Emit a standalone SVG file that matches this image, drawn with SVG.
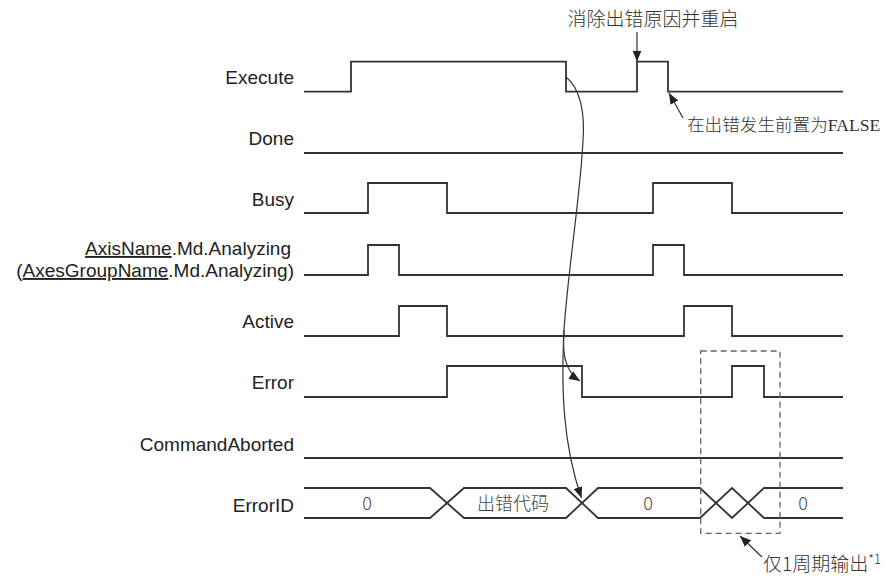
<svg xmlns="http://www.w3.org/2000/svg" width="891" height="576" viewBox="0 0 891 576">
<defs>
<style>
.sig{fill:none;stroke:#333;stroke-width:1.8;stroke-linejoin:miter}
.lbl{font-family:"Liberation Sans",Arial,sans-serif;font-size:19px;fill:#222;text-anchor:end}
.cjk{font-family:"Noto Sans CJK SC","Noto Sans",sans-serif;font-size:19px;font-weight:300;fill:#333}
.cjk.sm{font-size:17.6px}
.val{font-family:"Noto Sans CJK SC","Noto Sans",sans-serif;font-size:18px;font-weight:300;fill:#444;text-anchor:middle}
.con{fill:none;stroke:#333;stroke-width:1.2}
.dash{fill:none;stroke:#666;stroke-width:1.3;stroke-dasharray:6 4}
</style>
<marker id="ah" markerUnits="userSpaceOnUse" markerWidth="12" markerHeight="9" refX="11" refY="4.5" orient="auto">
<path d="M0,0 L11,4.5 L0,9 z" fill="#222"/>
</marker>
</defs>
<rect width="891" height="576" fill="#fff"/>

<g id="execute">
<text class="lbl" x="294" y="84">Execute</text>
<path class="sig" d="M304,91.7 H351 V61.7 H566 V91.7 H637 V61.7 H668 V91.7 H843"/>
</g>
<g id="done">
<text class="lbl" x="294" y="145">Done</text>
<path class="sig" d="M304,153 H843"/>
</g>
<g id="busy">
<text class="lbl" x="294" y="206">Busy</text>
<path class="sig" d="M304,213 H368 V183 H447 V213 H653 V183 H732 V213 H843"/>
</g>
<g id="analyzing">
<text class="lbl" x="291" y="255"><tspan text-decoration="underline">AxisName</tspan>.Md.Analyzing</text>
<text class="lbl" x="294" y="277">(<tspan text-decoration="underline">AxesGroupName</tspan>.Md.Analyzing)</text>
<path class="sig" d="M304,275 H368 V245 H399 V275 H653 V245 H684 V275 H843"/>
</g>
<g id="active">
<text class="lbl" x="294" y="328">Active</text>
<path class="sig" d="M304,336 H399 V306 H447 V336 H684 V306 H732 V336 H843"/>
</g>
<g id="error">
<text class="lbl" x="294" y="389">Error</text>
<path class="sig" d="M304,397 H447 V366 H582 V397 H732 V366 H764 V397 H843"/>
</g>
<g id="commandaborted">
<text class="lbl" x="294" y="451">CommandAborted</text>
<path class="sig" d="M304,458 H843"/>
</g>
<g id="errorid">
<text class="lbl" x="294" y="512">ErrorID</text>
<path class="sig" d="M304,488 H430 L464,518 H566 L598,488 H700 L732,518 L764,488 H843"/>
<path class="sig" d="M304,518 H430 L464,488 H566 L598,518 H700 L732,488 L764,518 H843"/>
<text class="val" x="367" y="510">0</text>
<text class="val" x="513" y="510">出错代码</text>
<text class="val" x="648" y="510">0</text>
<text class="val" x="803" y="510">0</text>
</g>

<g id="oneCycleBox">
<rect class="dash" x="700.7" y="351" width="79.3" height="182.3"/>
</g>

<g id="notes">
<text class="cjk" x="653" y="26" text-anchor="middle">消除出错原因并重启</text>
<text class="cjk sm" x="687" y="131">在出错发生前置为<tspan font-family="'Liberation Serif',serif">FALSE</tspan></text>
<text class="cjk" x="763" y="571">仅1周期输出<tspan font-size="13" dy="-7">*1</tspan></text>
</g>

<g id="connectors">
<path class="con" d="M637,32 V61.5" marker-end="url(#ah)"/>
<path class="con" d="M683,118 L669,93" marker-end="url(#ah)"/>
<path class="con" d="M762,557 L740,536" marker-end="url(#ah)"/>
<path class="con" d="M566,77 C580,88 585,112 583,140 C581,190 568,270 564,330 C562,356 566,372 580,381" marker-end="url(#ah)"/>
<path class="con" d="M564,330 C561,390 563,445 581.5,498" marker-end="url(#ah)"/>
</g>
</svg>
